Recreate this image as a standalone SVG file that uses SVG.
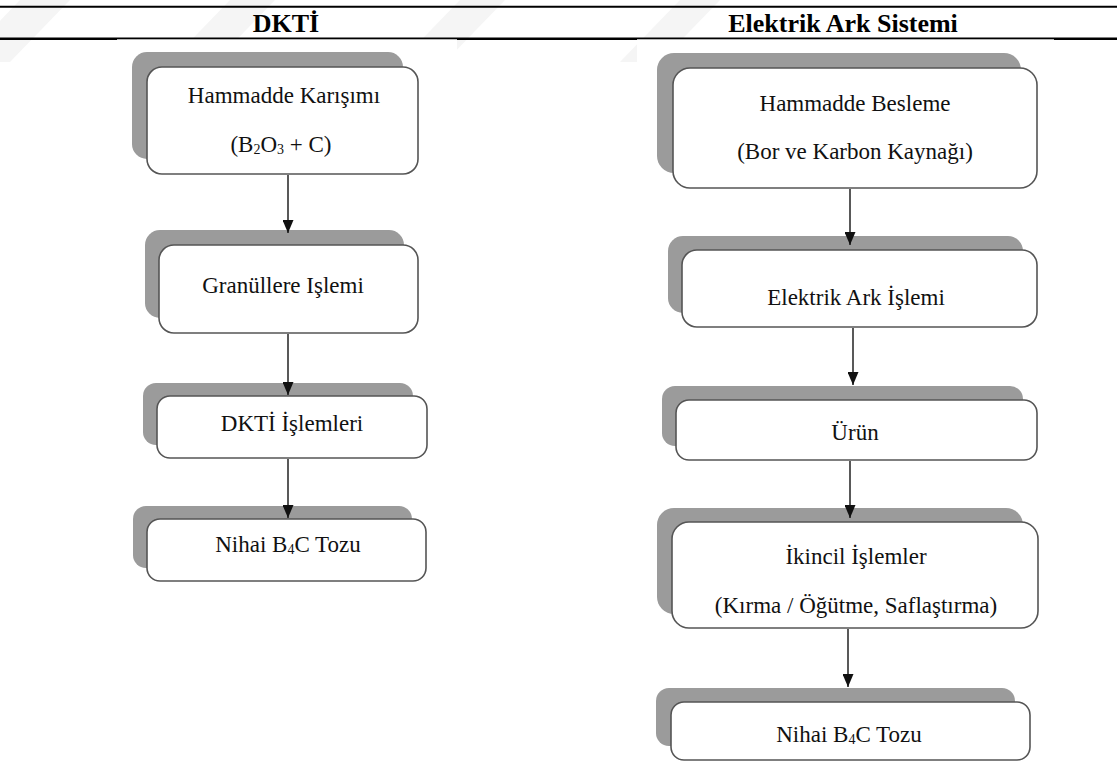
<svg xmlns="http://www.w3.org/2000/svg" width="1117" height="777" viewBox="0 0 1117 777">
<style>
.title{font-family:"Liberation Serif","Times New Roman",serif;font-weight:bold;font-size:26px;fill:#000;text-anchor:middle}
.t{font-family:"Liberation Serif","Times New Roman",serif;font-size:23px;fill:#111;text-anchor:middle}
.sub{font-size:14px}
.shadow{fill:#9b9b9b}
.box{fill:#fff;stroke:#555;stroke-width:1.6}
.wm{fill:#f5f5f5}
.conn{stroke:#222;stroke-width:1.5;fill:none}
</style>
<defs>
<marker id="ah" markerUnits="userSpaceOnUse" markerWidth="13" markerHeight="11" viewBox="0 0 13 11" refX="13" refY="5.5" orient="auto">
<path d="M0,0 L13,5.5 L0,11 z" fill="#111"/>
</marker>
</defs>
<rect width="1117" height="777" fill="#fff"/>
<g id="watermark">
<polygon class="wm" points="-40,62 10,62 70,0 20,0"/>
<polygon class="wm" points="170,62 215,62 275,0 230,0"/>
<polygon class="wm" points="400,62 445,62 505,0 460,0"/>
<polygon class="wm" points="620,62 660,62 720,0 680,0"/>
</g>
<g id="header">
<line x1="0" y1="6.7" x2="1117" y2="6.7" stroke="#000" stroke-width="2"/>
<line x1="0" y1="38.8" x2="1117" y2="38.8" stroke="#000" stroke-width="2.4"/>
<rect x="117" y="39.3" width="340" height="560" fill="#fff"/>
<rect x="637" y="39.3" width="417" height="737" fill="#fff"/>
<text class="title" x="286" y="32">DKTİ</text>
<text class="title" x="843" y="32">Elektrik Ark Sistemi</text>
</g>
<g id="L1">
<rect class="shadow" x="132" y="52" width="271" height="107" rx="15"/>
<rect class="box" x="147" y="67" width="271" height="107" rx="15"/>
<text class="t" x="284" y="103">Hammadde Karışımı</text>
<text class="t" x="281" y="152">(B<tspan class="sub" dy="2">2</tspan><tspan dy="-2">O</tspan><tspan class="sub" dy="2">3</tspan><tspan dy="-2"> + C)</tspan></text>
</g>
<g id="L2">
<rect class="shadow" x="145" y="230" width="259" height="88" rx="15"/>
<rect class="box" x="159" y="245" width="259" height="88" rx="15"/>
<text class="t" x="283" y="293">Granüllere Işlemi</text>
</g>
<g id="L3">
<rect class="shadow" x="143" y="383" width="270" height="62" rx="13"/>
<rect class="box" x="157" y="396" width="270" height="62" rx="13"/>
<text class="t" x="292" y="431">DKTİ İşlemleri</text>
</g>
<g id="L4">
<rect class="shadow" x="133" y="506" width="279" height="62" rx="13"/>
<rect class="box" x="147" y="519" width="279" height="62" rx="13"/>
<text class="t" x="288" y="552">Nihai B<tspan class="sub" dy="2">4</tspan><tspan dy="-2">C Tozu</tspan></text>
</g>
<g id="R1">
<rect class="shadow" x="657" y="53" width="364" height="120" rx="17"/>
<rect class="box" x="673" y="68" width="364" height="120" rx="17"/>
<text class="t" x="855" y="111">Hammadde Besleme</text>
<text class="t" x="855" y="159">(Bor ve Karbon Kaynağı)</text>
</g>
<g id="R2">
<rect class="shadow" x="668" y="236" width="355" height="77" rx="15"/>
<rect class="box" x="682" y="250" width="355" height="77" rx="15"/>
<text class="t" x="856" y="305">Elektrik Ark İşlemi</text>
</g>
<g id="R3">
<rect class="shadow" x="662" y="386" width="361" height="60" rx="13"/>
<rect class="box" x="676" y="400" width="361" height="60" rx="13"/>
<text class="t" x="855" y="440">Ürün</text>
</g>
<g id="R4">
<rect class="shadow" x="657" y="508" width="366" height="106" rx="17"/>
<rect class="box" x="672" y="522" width="366" height="106" rx="17"/>
<text class="t" x="856" y="564">İkincil İşlemler</text>
<text class="t" x="856" y="613">(Kırma / Öğütme, Saflaştırma)</text>
</g>
<g id="R5">
<rect class="shadow" x="656" y="688" width="359" height="58" rx="13"/>
<rect class="box" x="671" y="702" width="359" height="58" rx="13"/>
<text class="t" x="849" y="742">Nihai B<tspan class="sub" dy="2">4</tspan><tspan dy="-2">C Tozu</tspan></text>
</g>
<g id="connectors">
<line class="conn" x1="288" y1="175" x2="288" y2="233" marker-end="url(#ah)"/>
<line class="conn" x1="288" y1="334" x2="288" y2="395" marker-end="url(#ah)"/>
<line class="conn" x1="288" y1="459" x2="288" y2="518" marker-end="url(#ah)"/>
<line class="conn" x1="850" y1="189" x2="850" y2="245" marker-end="url(#ah)"/>
<line class="conn" x1="853" y1="328" x2="853" y2="385" marker-end="url(#ah)"/>
<line class="conn" x1="850" y1="461" x2="850" y2="518" marker-end="url(#ah)"/>
<line class="conn" x1="848" y1="629" x2="848" y2="687" marker-end="url(#ah)"/>
</g>
</svg>
